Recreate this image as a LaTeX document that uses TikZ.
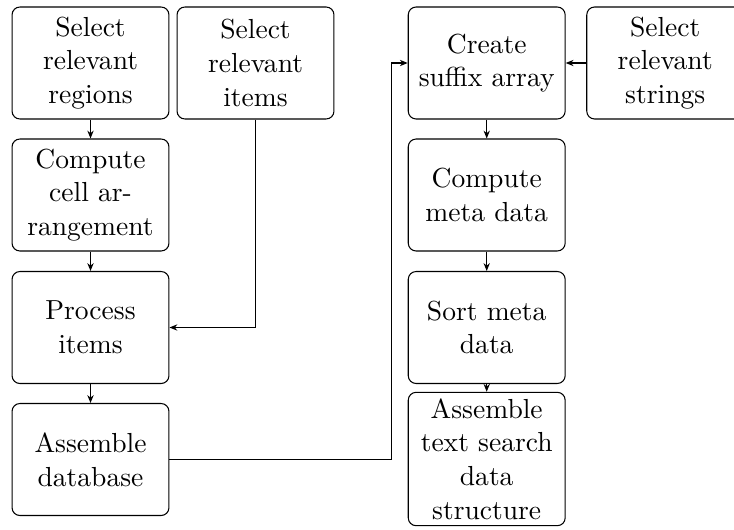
\documentclass[tikz,border=0pt]{standalone}
\usetikzlibrary{arrows.meta}
\begin{document}
\begin{tikzpicture}[
  x=0.3811pt, y=-0.3811pt,
  stepbox/.style={draw, rounded corners=3pt, align=center, text width=55pt,
    inner sep=2.4pt, minimum height=1.5cm, font=\fontsize{10.5}{12.8}\selectfont},
  flow/.style={-{Stealth[length=3pt,width=2.4pt]}}
]
\path[use as bounding box, clip] (0,0) rectangle (734,529);

% left pipeline
\node[stepbox] (regions) at (90.5,63)    {Select relevant regions};
\node[stepbox] (items)   at (255.5,63)   {Select relevant items};
\node[stepbox] (cells)   at (90.5,195)   {Compute cell arrangement};
\node[stepbox] (proc)    at (90.5,327.5) {Process items};
\node[stepbox] (db)      at (90.5,459.5) {Assemble database};

% right pipeline
\node[stepbox] (suffix)  at (486.7,63)   {Create suffix array};
\node[stepbox] (strings) at (665.2,63)   {Select relevant strings};
\node[stepbox] (meta)    at (486.7,195)  {Compute meta data};
\node[stepbox] (sort)    at (486.7,327.5){Sort meta data};
\node[stepbox] (search)  at (486.7,459)  {Assemble text search data structure};

\coordinate (bus) at (391.7,0);

\draw[flow] (regions) -- (cells);
\draw[flow] (cells) -- (proc);
\draw[flow] (proc) -- (db);
\draw[flow] (items.south) |- (proc.east);
\draw[flow] (db.east) -- (bus |- db.east) -- (bus |- suffix.west) -- (suffix.west);

\draw[flow] (strings.west) -- (suffix.east);
\draw[flow] (suffix) -- (meta);
\draw[flow] (meta) -- (sort);
\draw[flow] (sort.south) -- (search.north);
\end{tikzpicture}
\end{document}
